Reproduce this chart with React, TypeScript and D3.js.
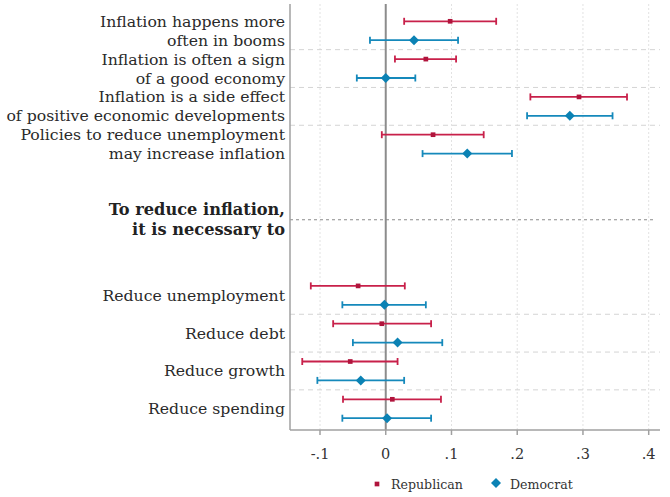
import React from "react";
import * as d3 from "d3";

// ---- data ----
const statements = [
  ["Inflation happens more", "often in booms"],
  ["Inflation is often a sign", "of a good economy"],
  ["Inflation is a side effect", "of positive economic developments"],
  ["Policies to reduce unemployment", "may increase inflation"],
  ["Reduce unemployment"],
  ["Reduce debt"],
  ["Reduce growth"],
  ["Reduce spending"],
];
const sectionHeading = ["To reduce inflation,", "it is necessary to"];

const repPoint = [0.098, 0.061, 0.294, 0.072, -0.042, -0.006, -0.054, 0.010];
const repLow = [0.028, 0.014, 0.220, -0.006, -0.114, -0.080, -0.127, -0.065];
const repHigh = [0.168, 0.107, 0.367, 0.149, 0.029, 0.069, 0.018, 0.084];

const demPoint = [0.043, 0.0, 0.280, 0.124, -0.002, 0.018, -0.038, 0.002];
const demLow = [-0.024, -0.044, 0.215, 0.056, -0.066, -0.050, -0.104, -0.066];
const demHigh = [0.110, 0.045, 0.345, 0.192, 0.061, 0.086, 0.028, 0.069];

const xTicks = [-0.1, 0, 0.1, 0.2, 0.3, 0.4];
const xTickLabels = ["-.1", "0", ".1", ".2", ".3", ".4"];
const seriesNames = ["Republican", "Democrat"];

// ---- layout ----
const W = 670;
const H = 497;
const plotLeft = 290;
const plotRight = 660;
const plotTop = 4;
const plotBottom = 430;

const RED = "#c8204a";
const BLUE = "#1589bb";
const FONT = "'DejaVu Serif', serif";
const LABEL_SIZE = 15.7;

// slot index for group g, series s (0=Rep,1=Dem)
const slot = (g: number, s: number) => (g < 4 ? 2 * g + s : 14 + 2 * (g - 4) + s);
const headingSlot = 10.5;

export default function App() {
  const x = d3.scaleLinear().domain([-0.1, 0.4]).range([320.0, 648.7]);
  const y = d3.scaleLinear().domain([0, 21]).range([21.3, 418.2]);

  const diamond = d3.symbol().type(d3.symbolSquare).size(50)();
  const square = d3.symbol().type(d3.symbolSquare).size(22)();

  const separators = [1.5, 3.5, 5.5, 15.5, 17.5, 19.5];

  const series = [
    { name: seriesNames[0], pt: repPoint, lo: repLow, hi: repHigh, color: RED, s: 0 },
    { name: seriesNames[1], pt: demPoint, lo: demLow, hi: demHigh, color: BLUE, s: 1 },
  ];

  return (
    <svg
      width={W}
      height={H}
      style={{ position: "absolute", left: 0, top: 0, background: "#fff" }}
      fontFamily={FONT}
    >
      <rect x={0} y={0} width={W} height={H} fill="#fff" />
      {/* vertical grid */}
      {xTicks.map((t, i) =>
        t === 0 ? null : (
          <line
            key={"g" + i}
            x1={x(t)}
            x2={x(t)}
            y1={plotTop}
            y2={plotBottom}
            stroke="#e2e2e2"
            strokeWidth={1}
            strokeDasharray="2 2"
          />
        )
      )}
      {/* horizontal separators */}
      {separators.map((s, i) => (
        <line
          key={"s" + i}
          x1={plotLeft}
          x2={plotRight}
          y1={y(s)}
          y2={y(s)}
          stroke="#d4d4d4"
          strokeWidth={1}
          strokeDasharray="5 4"
        />
      ))}
      <line
        x1={plotLeft}
        x2={plotRight - 4}
        y1={y(headingSlot)}
        y2={y(headingSlot)}
        stroke="#8a8a8a"
        strokeWidth={1}
        strokeDasharray="3 3"
      />
      {/* zero line */}
      <line x1={x(0)} x2={x(0)} y1={plotTop} y2={plotBottom} stroke="#8c8c8c" strokeWidth={2} />
      {/* axes */}
      <line x1={plotLeft} x2={plotLeft} y1={plotTop} y2={plotBottom} stroke="#a0a0a0" strokeWidth={1.5} />
      <line x1={plotLeft} x2={plotRight} y1={plotBottom} y2={plotBottom} stroke="#a0a0a0" strokeWidth={1.5} />
      {xTicks.map((t, i) => (
        <g key={"t" + i}>
          <line x1={x(t)} x2={x(t)} y1={plotBottom} y2={plotBottom + 5} stroke="#a0a0a0" strokeWidth={1.5} />
          <text x={x(t)} y={plotBottom + 29} textAnchor="middle" fontSize={14.5} fill="#333">
            {xTickLabels[i]}
          </text>
        </g>
      ))}
      {/* labels */}
      {statements.map((lines, g) => {
        const yc = (y(slot(g, 0)) + y(slot(g, 1))) / 2;
        const n = lines.length;
        return (
          <text key={"l" + g} textAnchor="end" fontSize={LABEL_SIZE} fill="#2a2a2a">
            {lines.map((ln, k) => (
              <tspan key={k} x={285} y={yc + (k - (n - 1) / 2) * 18.9 + 5.5}>
                {ln}
              </tspan>
            ))}
          </text>
        );
      })}
      <text textAnchor="end" fontSize={16.2} fontWeight="bold" fill="#222">
        {sectionHeading.map((ln, k) => (
          <tspan key={k} x={285} y={y(headingSlot) + (k - 0.5) * 20 + 5.5}>
            {ln}
          </tspan>
        ))}
      </text>
      {/* error bars */}
      {series.map((sr) =>
        sr.pt.map((p, g) => {
          const yy = y(slot(g, sr.s));
          return (
            <g key={sr.name + g}>
              <line x1={x(sr.lo[g])} x2={x(sr.hi[g])} y1={yy} y2={yy} stroke={sr.color} strokeWidth={1.8} />
              <line x1={x(sr.lo[g])} x2={x(sr.lo[g])} y1={yy - 3.5} y2={yy + 3.5} stroke={sr.color} strokeWidth={1.8} />
              <line x1={x(sr.hi[g])} x2={x(sr.hi[g])} y1={yy - 3.5} y2={yy + 3.5} stroke={sr.color} strokeWidth={1.8} />
              {sr.s === 0 ? (
                <path d={square!} transform={`translate(${x(p)},${yy})`} fill="#b0143c" />
              ) : (
                <path d={diamond!} transform={`translate(${x(p)},${yy}) rotate(45)`} fill="#0b82b4" />
              )}
            </g>
          );
        })
      )}
      {/* legend */}
      <path d={square!} transform="translate(377,484)" fill="#b0143c" />
      <text x={391} y={489} fontSize={12.6} fill="#333">
        {seriesNames[0]}
      </text>
      <path d={diamond!} transform="translate(496,483) rotate(45)" fill="#0b82b4" />
      <text x={510} y={489} fontSize={12.6} fill="#333">
        {seriesNames[1]}
      </text>
    </svg>
  );
}
